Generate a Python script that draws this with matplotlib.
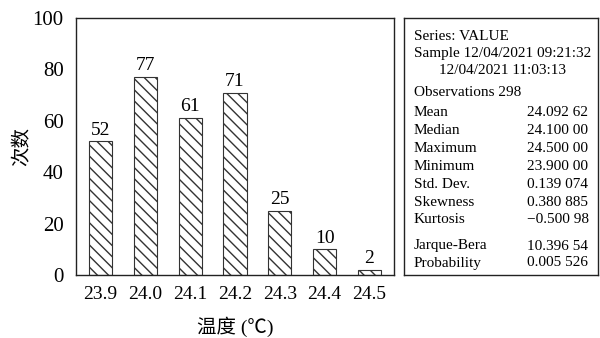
import matplotlib
matplotlib.use("Agg")
import matplotlib.pyplot as plt

# ------------------------ #
# DATA
# ------------------------ #
temps = ["23.9", "24.0", "24.1", "24.2", "24.3", "24.4", "24.5"]
counts = [52, 77, 61, 71, 25, 10, 2]

stat_names = ["Mean", "Median", "Maximum", "Minimum", "Std. Dev.",
              "Skewness", "Kurtosis"]
stat_values = ["24.092 62", "24.100 00", "24.500 00", "23.900 00",
               "0.139 074", "0.380 885", "\u22120.500 98"]
test_names = ["Jarque-Bera", "Probability"]
test_values = ["10.396 54", "0.005 526"]

header_lines = ["Series: VALUE", "Sample 12/04/2021 09:21:32"]
sample_end = "12/04/2021 11:03:13"
obs_line = "Observations 298"

# ------------------------ #
# PLOTTING
# ------------------------ #
plt.rcParams['font.family'] = ['Liberation Serif', 'Noto Sans CJK SC']

W, H = 600, 338
fig = plt.figure(figsize=(6, 3.38), dpi=100)

ax = fig.add_axes([76 / W, 1 - 275 / H, (394 - 76) / W, (275 - 18) / H])
x = range(len(temps))
bars = ax.bar(x, counts, width=0.52, color="white", edgecolor="#333333",
              linewidth=0.8, hatch="\\\\\\")
for b, v in zip(bars, counts):
    ax.annotate(f"{v}", (b.get_x() + b.get_width() / 2, b.get_height()),
                xytext=(0, 2), textcoords="offset points",
                ha="center", va="bottom", fontsize=14)

ax.set_xlim(-0.55, 6.55)
ax.set_ylim(0, 100)
ax.set_yticks([0, 20, 40, 60, 80, 100])
ax.set_xticks(list(x))
ax.set_xticklabels(temps)
ax.tick_params(axis="x", length=0, labelsize=14, pad=8)
ax.tick_params(axis="y", length=0, labelsize=15, pad=9)
for s in ax.spines.values():
    s.set_linewidth(1.0)
    s.set_color("#222222")
ax.set_xlabel("温度 (℃)", fontsize=14, labelpad=10)
ax.set_ylabel("次数", fontsize=14)
ax.yaxis.set_label_coords(-0.14, 0.5)

# statistics box
box = fig.add_axes([404 / W, 1 - 275 / H, (598 - 404) / W, (275 - 18) / H])
box.set_xticks([])
box.set_yticks([])
for s in box.spines.values():
    s.set_linewidth(1.0)
    s.set_color("#222222")

fs = 11
x_left = 414 / W
x_val = 527 / W


def fy(py):
    return 1 - py / H


fig.text(x_left, fy(37), header_lines[0], fontsize=fs, va="center")
fig.text(x_left, fy(54), header_lines[1], fontsize=fs, va="center")
fig.text(439 / W, fy(71), sample_end, fontsize=fs, va="center")
fig.text(x_left, fy(92), obs_line, fontsize=fs, va="center")

y0, dy = 113, 17.8
for i, (n, v) in enumerate(zip(stat_names, stat_values)):
    fig.text(x_left, fy(y0 + i * dy), n, fontsize=fs, va="center")
    fig.text(x_val, fy(y0 + i * dy), v, fontsize=fs, va="center")

y1 = 246
for i, (n, v) in enumerate(zip(test_names, test_values)):
    fig.text(x_left, fy(y1 + i * 17), n, fontsize=fs, va="center")
    fig.text(x_val, fy(y1 + i * 17), v, fontsize=fs, va="center")

fig.savefig("out.png", dpi=100)
